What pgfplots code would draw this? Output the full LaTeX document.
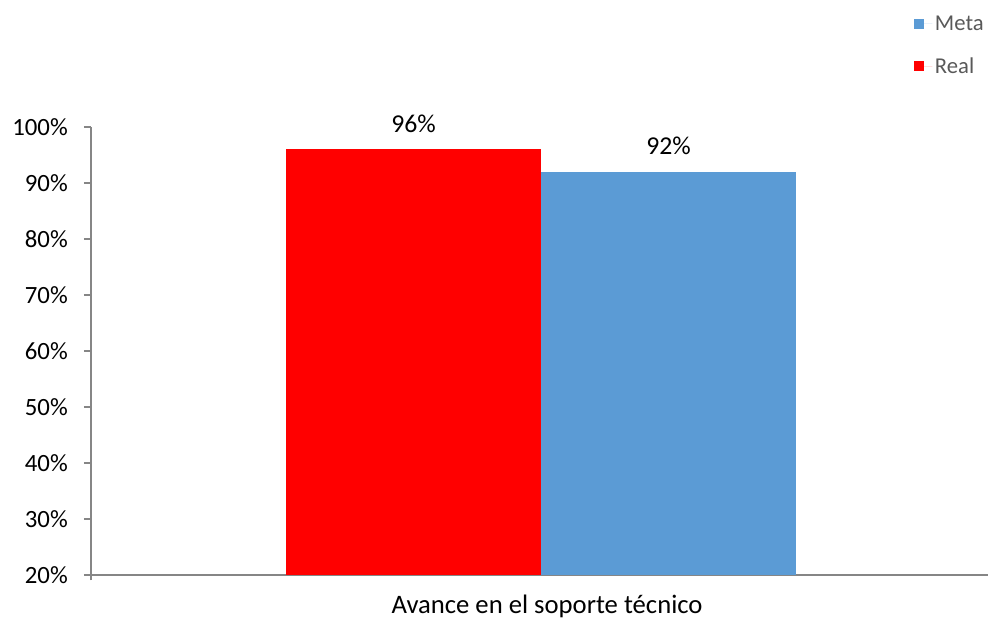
\documentclass[border=0pt]{standalone}
\usepackage{pgfplots}
\pgfplotsset{compat=1.18}
\usepackage{fontspec}
\setmainfont{Carlito}
\definecolor{barred}{HTML}{FF0000}
\definecolor{barblue}{HTML}{5B9BD5}
\definecolor{axisgray}{HTML}{868686}
\definecolor{leggray}{HTML}{595959}
\begin{document}
\begin{tikzpicture}
\useasboundingbox (0,0) rectangle (741pt,464.25pt);
\begin{axis}[
  at={(68.25pt,33pt)}, anchor=south west,
  scale only axis,
  width=674.25pt, height=336pt,
  xmin=-450, xmax=449,
  ymin=20, ymax=100,
  ytick={20,30,40,50,60,70,80,90,100},
  yticklabel={\pgfmathprintnumber{\tick}\%},
  /pgf/number format/assume math mode=true,
  ymajorgrids=false,
  axis line style={axisgray, line width=0.9pt},
  axis x line*=bottom,
  axis y line*=left,
  y axis line style={-},
  x axis line style={-},
  tick style={axisgray, line width=0.9pt},
  tick align=outside,
  major tick length=5.25pt,
  xtick={0},
  xticklabels={Avance en el soporte técnico},
  x tick style={draw=none},
  extra x ticks={-450},
  extra x tick labels={},
  extra x tick style={x tick style={draw=axisgray}, major tick length=4pt},
  yticklabel style={font=\fontsize{18.6pt}{22pt}\selectfont, black, anchor=east, inner sep=0pt, xshift=-12pt},
  xticklabel style={font=\fontsize{20pt}{24pt}\selectfont, black, anchor=base, inner sep=0pt, yshift=-23.5pt, xshift=4.5pt},
  ybar, bar shift=0pt, bar width=255,
  nodes near coords={\pgfmathprintnumber{\pgfplotspointmeta}\%},
  every node near coord/.append style={font=\fontsize{19.3pt}{22pt}\selectfont, black, anchor=base, inner sep=0pt, yshift=12.75pt},
  legend style={at={(rel axis cs:0.9155,1.255)}, anchor=north west, draw=none, fill=none,
     font=\fontsize{17pt}{20pt}\selectfont, text=leggray, row sep=15pt, inner sep=0pt,
     nodes={inner sep=2pt}},
  legend cell align=left,
  clip=false,
]
\addplot[fill=barblue, draw=none, legend image code/.code={\fill[barblue] (0pt,-3.75pt) rectangle (7.5pt,3.75pt);\path (0pt,0pt) -- (13.5pt,0pt);}] coordinates {(127.5,92)};
\addlegendentry{Meta}
\addplot[fill=barred, draw=none, legend image code/.code={\fill[barred] (0pt,-3.75pt) rectangle (7.5pt,3.75pt);\path (0pt,0pt) -- (13.5pt,0pt);}] coordinates {(-127.5,96)};
\addlegendentry{Real}
\end{axis}
\end{tikzpicture}
\end{document}
